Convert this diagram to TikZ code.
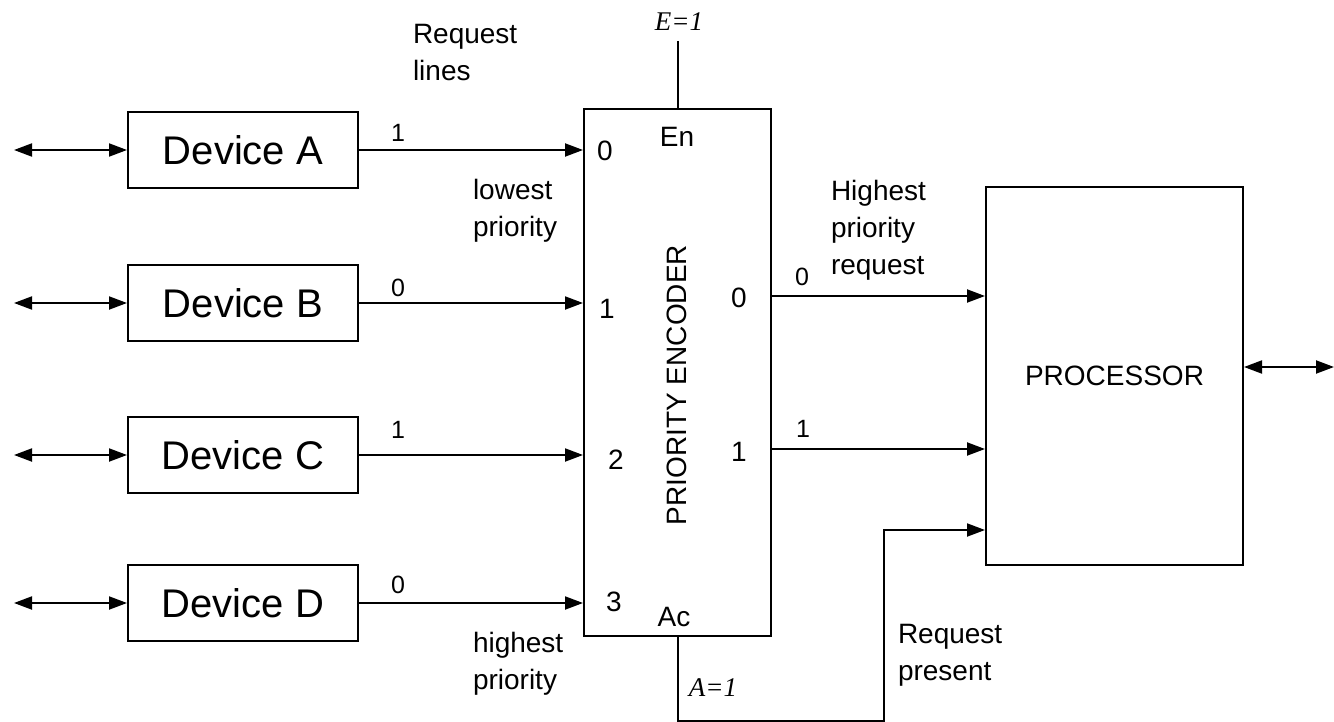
\documentclass[tikz,border=0pt]{standalone}
\usepackage{fontspec}
\setmainfont{Liberation Sans}
\newfontfamily\mathlike{Liberation Serif}
\usetikzlibrary{arrows.meta}
\begin{document}
\begin{tikzpicture}[x=0.5pt,y=-0.5pt,
  line width=1pt,
  tip/.style={-{Triangle[length=9pt,width=6.5pt]}},
  bitip/.style={{Triangle[length=9pt,width=6.5pt]}-{Triangle[length=9pt,width=6.5pt]}},
  device/.style={draw,minimum width=115pt,minimum height=38pt,inner sep=0pt,font=\fontsize{20}{22}\selectfont},
  lbl/.style={inner sep=0pt,font=\fontsize{12.5}{18}\selectfont},
  pin/.style={inner sep=0pt,font=\fontsize{14}{16}\selectfont},
  note/.style={inner sep=0pt,align=left,font=\fontsize{14}{18.5}\selectfont},
  ital/.style={inner sep=0pt,font=\mathlike\itshape\fontsize{13.5}{15}\selectfont}]
\useasboundingbox (0,0) rectangle (1334,722);

% blocks
\node[device] (devA) at (243,150) {Device A};
\node[device] (devB) at (243,303) {Device B};
\node[device] (devC) at (243,455) {Device C};
\node[device] (devD) at (243,603) {Device D};
\node[draw,minimum width=93.5pt,minimum height=263.5pt,inner sep=0pt] (enc) at (677.5,372.5) {};
\node[draw,minimum width=128.5pt,minimum height=189pt,inner sep=0pt,font=\fontsize{14}{16}\selectfont] (proc) at (1114.5,376) {PROCESSOR};
\node[rotate=90,inner sep=0pt,font=\fontsize{14}{16}\selectfont] (enclabel) at (677,385) {PRIORITY ENCODER};

% external bus ends
\coordinate (busA) at (14,150);
\coordinate (busB) at (14,303);
\coordinate (busC) at (14,455);
\coordinate (busD) at (14,603);
\coordinate (busP) at (1334,367);
\draw[bitip] (busA) -- (devA.west);
\draw[bitip] (busB) -- (devB.west);
\draw[bitip] (busC) -- (devC.west);
\draw[bitip] (busD) -- (devD.west);
\draw[bitip] (busP -| proc.east) -- (busP);

% request lines
\draw[tip] (devA.east) -- (devA.east -| enc.west);
\draw[tip] (devB.east) -- (devB.east -| enc.west);
\draw[tip] (devC.east) -- (devC.east -| enc.west);
\draw[tip] (devD.east) -- (devD.east -| enc.west);
\node[lbl] (vA) at (398,133) {1};
\node[lbl] (vB) at (398,288) {0};
\node[lbl] (vC) at (398,430) {1};
\node[lbl] (vD) at (398,585) {0};

% encoder pins
\node[pin] (in0) at (605,151) {0};
\node[pin] (in1) at (607,309) {1};
\node[pin] (in2) at (616,460) {2};
\node[pin] (in3) at (614,602) {3};
\node[pin] (en) at (677,137) {En};
\node[pin] (ac) at (674,617) {Ac};
\node[pin] (out0) at (739,298) {0};
\node[pin] (out1) at (739,452) {1};

% enable input
\coordinate (enTop) at (677.5,41);
\draw (enTop) -- (enc.north);
\node[ital] (eLab) at (679,22) {E=1};

% encoded outputs
\coordinate (o0) at (771,296);
\coordinate (o1) at (771,449);
\draw[tip] (o0) -- (o0 -| proc.west);
\draw[tip] (o1) -- (o1 -| proc.west);
\node[lbl] (b0) at (802,277) {0};
\node[lbl] (b1) at (803,429) {1};

% request present
\coordinate (rp) at (884,530);
\draw[tip] (enc.south) -- ++(0,84) -| (rp) -- (rp -| proc.west);
\node[ital] (aLab) at (713,688) {A=1};

% notes
\node[note,anchor=north west] (nReq) at (412,23) {Request\\lines};
\node[note,anchor=north west] (nLow) at (472,178) {lowest\\priority};
\node[note,anchor=north west] (nHigh) at (472,631) {highest\\priority};
\node[note,anchor=north west] (nHP) at (830,179) {Highest\\priority\\request};
\node[note,anchor=north west] (nRP) at (897,623) {Request\\present};
\end{tikzpicture}
\end{document}
